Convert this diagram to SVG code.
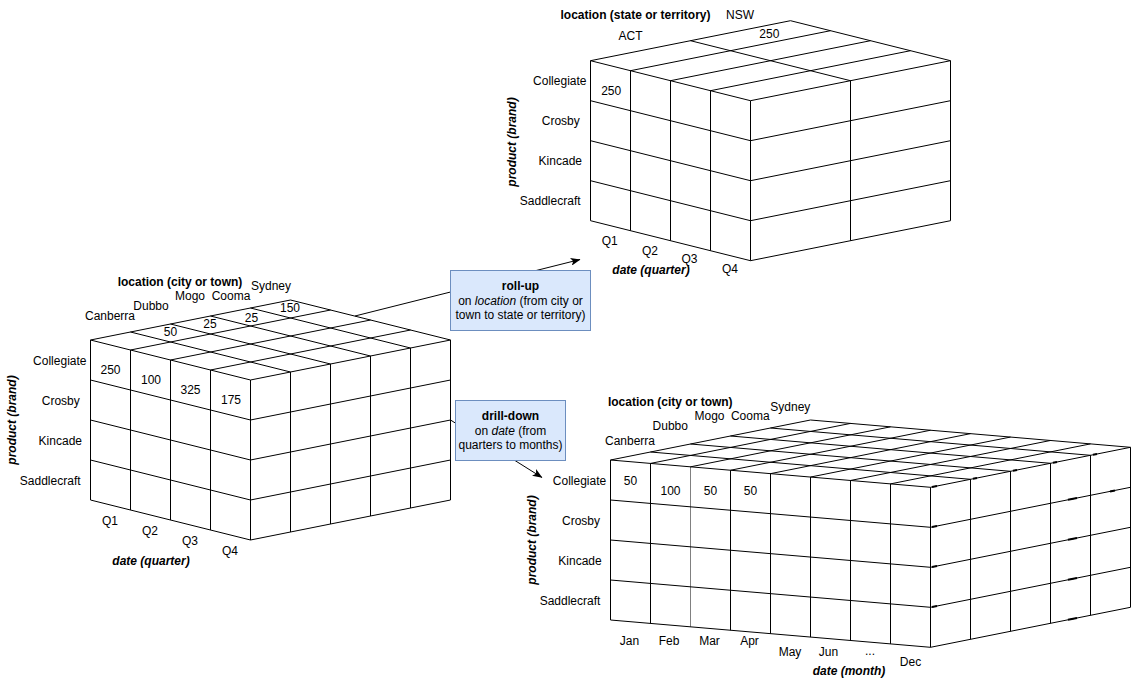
<svg xmlns="http://www.w3.org/2000/svg" width="1139" height="681" viewBox="0 0 1139 681">
<style>
  .g { fill: none; stroke: #000; stroke-width: 1; }
  .gray { fill: none; stroke: #808080; stroke-width: 1; }
  .mk { fill: none; stroke: #000; stroke-width: 2; }
  text { font-family: "Liberation Sans", Arial, sans-serif; font-size: 12px; fill: #000; }
  .c { text-anchor: middle; }
  .b { font-weight: bold; }
  .bi { font-weight: bold; font-style: italic; }
  .box { fill: #dae8fc; stroke: #6c8ebf; stroke-width: 1; }
  .conn { fill: none; stroke: #000; stroke-width: 1; }
</style>
<defs>
  <marker id="arrow" viewBox="0 0 10 8" markerWidth="10" markerHeight="8" refX="9.5" refY="4" orient="auto" markerUnits="userSpaceOnUse">
    <path d="M0,0 L10,4 L0,8 L2.5,4 Z" fill="#000" stroke="none"/>
  </marker>
</defs>

<g id="cube-quarter-city">
  <path class="g" d="M90.5,340 V500 M130.5,350 V510 M170.5,360 V520 M210.5,370 V530 M250.5,380 V540"/>
  <path class="g" d="M90.5,340 L250.5,380 M90.5,380 L250.5,420 M90.5,420 L250.5,460 M90.5,460 L250.5,500 M90.5,500 L250.5,540"/>
  <path class="g" d="M290.5,372 V532 M330.5,364 V524 M370.5,356 V516 M410.5,348 V508 M450.5,340 V500"/>
  <path class="g" d="M250.5,420 L450.5,380 M250.5,460 L450.5,420 M250.5,500 L450.5,460 M250.5,540 L450.5,500 M250.5,380 L450.5,340"/>
  <path class="g" d="M90.5,340 L290.5,300 M130.5,350 L330.5,310 M170.5,360 L370.5,320 M210.5,370 L410.5,330"/>
  <path class="g" d="M130.5,332 L290.5,372 M170.5,324 L330.5,364 M210.5,316 L370.5,356 M250.5,308 L410.5,348 M290.5,300 L450.5,340"/>
  <text class="b c" x="180" y="285.5">location (city or town)</text>
  <text class="c" x="110" y="320.3">Canberra</text>
  <text class="c" x="151" y="310.3">Dubbo</text>
  <text class="c" x="190" y="300.3">Mogo</text>
  <text class="c" x="231" y="300.3">Cooma</text>
  <text class="c" x="271" y="290.3">Sydney</text>
  <text class="c" x="170.5" y="336.3">50</text>
  <text class="c" x="210" y="328.3">25</text>
  <text class="c" x="251.5" y="322.3">25</text>
  <text class="c" x="290" y="312.3">150</text>
  <text class="c" x="110.5" y="374.3">250</text>
  <text class="c" x="151" y="384.3">100</text>
  <text class="c" x="190.5" y="394.3">325</text>
  <text class="c" x="231" y="404.3">175</text>
  <text class="c" x="59.8" y="364.5">Collegiate</text>
  <text class="c" x="60.8" y="404.5">Crosby</text>
  <text class="c" x="60.3" y="444.5">Kincade</text>
  <text class="c" x="50.2" y="484.5">Saddlecraft</text>
  <text class="bi c" transform="translate(16,420) rotate(-90)">product (brand)</text>
  <text class="c" x="110" y="525.3">Q1</text>
  <text class="c" x="150" y="535.3">Q2</text>
  <text class="c" x="190" y="545.3">Q3</text>
  <text class="c" x="230" y="555.3">Q4</text>
  <text class="bi c" x="151" y="565.3">date (quarter)</text>
</g>

<g id="cube-quarter-state">
  <path class="g" d="M590.5,60.7 V220.7 M630.5,70.7 V230.7 M670.5,80.7 V240.7 M710.5,90.7 V250.7 M750.5,100.7 V260.7"/>
  <path class="g" d="M590.5,60.7 L750.5,100.7 M590.5,100.7 L750.5,140.7 M590.5,140.7 L750.5,180.7 M590.5,180.7 L750.5,220.7 M590.5,220.7 L750.5,260.7"/>
  <path class="g" d="M850.5,80.7 V240.7 M950.5,60.7 V220.7"/>
  <path class="g" d="M750.5,100.7 L950.5,60.7 M750.5,140.7 L950.5,100.7 M750.5,180.7 L950.5,140.7 M750.5,220.7 L950.5,180.7 M750.5,260.7 L950.5,220.7"/>
  <path class="g" d="M590.5,60.7 L790.5,20.7 M630.5,70.7 L830.5,30.7 M670.5,80.7 L870.5,40.7 M710.5,90.7 L910.5,50.7"/>
  <path class="g" d="M690.5,40.7 L850.5,80.7 M790.5,20.7 L950.5,60.7"/>
  <text class="b c" x="635.5" y="19.3">location (state or territory)</text>
  <text class="c" x="740" y="19.3">NSW</text>
  <text class="c" x="630.5" y="40.3">ACT</text>
  <text class="c" x="769.3" y="37.6">250</text>
  <text class="c" x="611.2" y="94.6">250</text>
  <text class="c" x="559.8" y="85.2">Collegiate</text>
  <text class="c" x="560.8" y="125.2">Crosby</text>
  <text class="c" x="560.3" y="165.2">Kincade</text>
  <text class="c" x="550.2" y="205.2">Saddlecraft</text>
  <text class="bi c" transform="translate(516,142) rotate(-90)">product (brand)</text>
  <text class="c" x="609.7" y="245.3">Q1</text>
  <text class="c" x="650" y="255.3">Q2</text>
  <text class="c" x="689.5" y="263.3">Q3</text>
  <text class="c" x="730" y="273.3">Q4</text>
  <text class="bi c" x="651" y="274.3">date (quarter)</text>
</g>

<g id="cube-month-city">
  <path class="g" d="M610.5,460 V620 M650.5,463.41 V623.41 M730.5,470.24 V630.24 M770.5,473.65 V633.65 M810.5,477.06 V637.06 M850.5,480.48 V640.48 M890.5,483.89 V643.89 M930.5,487.3 V647.3"/>
  <path class="gray" d="M690.5,466.83 V626.83"/>
  <path class="g" d="M610.5,460 L930.5,487.3 M610.5,500 L930.5,527.3 M610.5,540 L930.5,567.3 M610.5,580 L930.5,607.3 M610.5,620 L930.5,647.3"/>
  <path class="g" d="M970.5,479.3 V639.3 M1010.5,471.3 V631.3 M1050.5,463.3 V623.3 M1090.5,455.3 V615.3 M1130.5,447.3 V607.3"/>
  <path class="g" d="M930.5,487.3 L1130.5,447.3 M930.5,527.3 L1130.5,487.3 M930.5,567.3 L1130.5,527.3 M930.5,607.3 L1130.5,567.3 M930.5,647.3 L1130.5,607.3"/>
  <path class="g" d="M610.5,460 L810.5,420 M650.5,463.41 L850.5,423.41 M690.5,466.83 L890.5,426.83 M730.5,470.24 L930.5,430.24 M770.5,473.65 L970.5,433.65 M810.5,477.06 L1010.5,437.06 M850.5,480.48 L1050.5,440.48 M890.5,483.89 L1090.5,443.89"/>
  <path class="g" d="M650.5,452 L970.5,479.3 M690.5,444 L1010.5,471.3 M730.5,436 L1050.5,463.3 M770.5,428 L1090.5,455.3 M810.5,420 L1130.5,447.3"/>
  <path class="mk" d="M932,487 L937,486 M932,527 L937,526 M932,567 L937,566 M932,607 L937,606 M973,478.8 L977,478 M1013,470.8 L1017,470 M1053,462.8 L1057,462 M1093,454.8 L1097,454 M1068,499.8 L1077,497.9 M1068,539.8 L1077,537.9 M1068,579.8 L1077,577.9 M1068,619.8 L1077,617.9 M1110,491.4 L1115,490.4"/>
  <text class="b c" x="670.3" y="405.5">location (city or town)</text>
  <text class="c" x="790.3" y="411">Sydney</text>
  <text class="c" x="709.5" y="420.3">Mogo</text>
  <text class="c" x="750.3" y="420.3">Cooma</text>
  <text class="c" x="670.3" y="430.3">Dubbo</text>
  <text class="c" x="630" y="445.3">Canberra</text>
  <text class="c" x="630.5" y="485">50</text>
  <text class="c" x="670.5" y="495">100</text>
  <text class="c" x="710.5" y="495">50</text>
  <text class="c" x="750.5" y="495">50</text>
  <text class="c" x="579.5" y="485">Collegiate</text>
  <text class="c" x="581" y="525">Crosby</text>
  <text class="c" x="580" y="565">Kincade</text>
  <text class="c" x="570" y="605">Saddlecraft</text>
  <text class="bi c" transform="translate(536,540) rotate(-90)">product (brand)</text>
  <text class="c" x="629.5" y="645">Jan</text>
  <text class="c" x="669" y="645">Feb</text>
  <text class="c" x="709.5" y="645">Mar</text>
  <text class="c" x="749.5" y="645">Apr</text>
  <text class="c" x="790" y="656">May</text>
  <text class="c" x="828.5" y="656">Jun</text>
  <text class="c" x="870" y="655">...</text>
  <text class="c" x="910.5" y="666">Dec</text>
  <text class="bi c" x="849" y="675">date (month)</text>
</g>

<g id="connectors">
  <line class="conn" x1="355" y1="316" x2="580" y2="259.5" marker-end="url(#arrow)"/>
  <line class="conn" x1="450.5" y1="420" x2="542" y2="477.5" marker-end="url(#arrow)"/>
</g>

<g id="node-rollup">
  <rect class="box" x="450.5" y="270.5" width="140" height="60"/>
  <text class="b c" x="520.5" y="290">roll-up</text>
  <text class="c" x="520.5" y="304.5">on <tspan font-style="italic">location</tspan> (from city or</text>
  <text class="c" x="520.5" y="319">town to state or territory)</text>
</g>

<g id="node-drilldown">
  <rect class="box" x="455.5" y="400.5" width="110" height="60"/>
  <text class="b c" x="510.5" y="420">drill-down</text>
  <text class="c" x="510.5" y="434.5">on <tspan font-style="italic">date</tspan> (from</text>
  <text class="c" x="510.5" y="449">quarters to months)</text>
</g>
</svg>
